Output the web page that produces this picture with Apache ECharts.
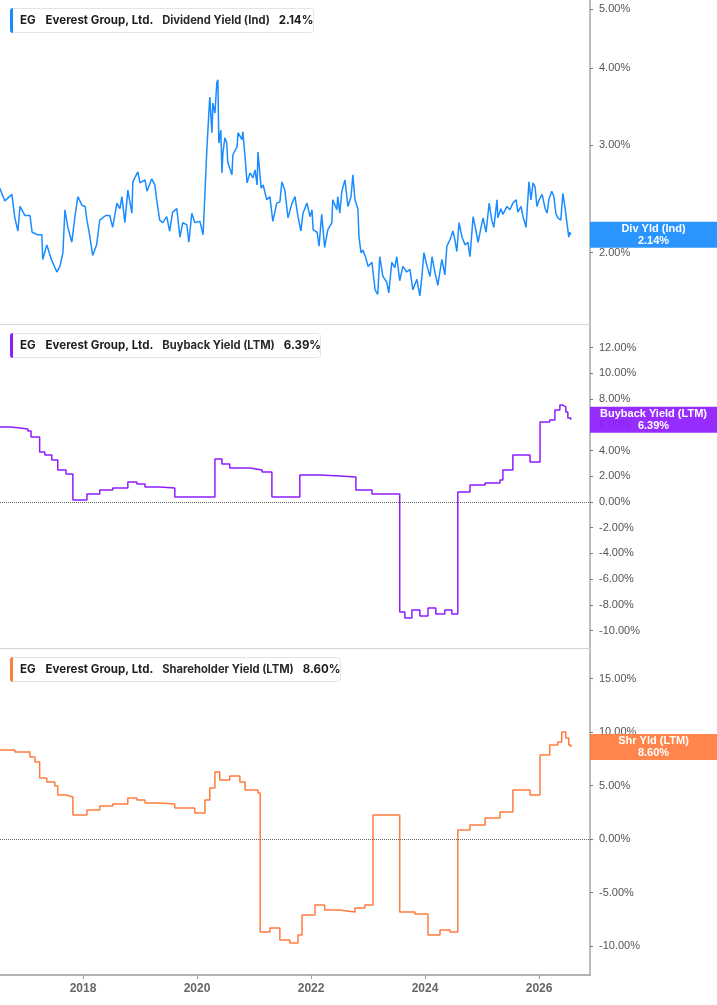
<!DOCTYPE html>
<html>
<head>
<meta charset="utf-8">
<script src="https://cdn.jsdelivr.net/npm/echarts@6/dist/echarts.min.js"></script>
<style>
html, body { margin: 0; padding: 0; background: #fff; }
#main { width: 717px; height: 1005px; }
</style>
</head>
<body>
<div id="main"></div>
<script>
// dividend yield (ind), %
const divDates = ['2016-07-16','2016-08-18','2016-10-02','2016-10-21','2016-11-10','2016-11-23','2016-12-25','2017-01-26','2017-02-09','2017-03-17','2017-04-12','2017-04-18','2017-05-14','2017-06-09','2017-07-17','2017-08-06','2017-08-25','2017-09-07','2017-09-26','2017-10-21','2017-11-10','2017-11-29','2017-12-25','2018-01-14','2018-01-26','2018-02-09','2018-03-04','2018-03-29','2018-04-18','2018-05-26','2018-06-21','2018-07-10','2018-08-06','2018-08-25','2018-09-07','2018-09-26','2018-10-15','2018-11-10','2018-11-16','2018-12-18','2019-01-01','2019-02-02','2019-02-15','2019-03-17','2019-04-06','2019-04-18','2019-05-07','2019-05-26','2019-06-21','2019-07-10','2019-07-29','2019-08-25','2019-09-14','2019-10-02','2019-10-28','2019-11-10','2019-11-29','2019-12-18','2020-01-20','2020-02-09','2020-02-21','2020-03-04','2020-03-17','2020-03-23','2020-04-06','2020-04-12','2020-04-25','2020-05-07','2020-05-14','2020-05-20','2020-06-02','2020-06-09','2020-06-15','2020-06-28','2020-07-10','2020-07-16','2020-08-12','2020-08-18','2020-09-14','2020-09-20','2020-10-15','2020-10-21','2020-11-04','2020-11-17','2020-12-06','2020-12-25','2021-01-07','2021-01-20','2021-01-26','2021-02-15','2021-02-28','2021-03-23','2021-04-12','2021-05-01','2021-05-26','2021-06-15','2021-06-28','2021-07-17','2021-08-06','2021-09-01','2021-09-20','2021-10-09','2021-10-28','2021-11-10','2021-12-06','2021-12-25','2022-01-07','2022-01-14','2022-02-09','2022-02-21','2022-03-10','2022-03-29','2022-04-18','2022-05-14','2022-05-20','2022-06-15','2022-06-21','2022-07-04','2022-07-17','2022-08-06','2022-08-25','2022-09-14','2022-09-26','2022-10-09','2022-10-28','2022-11-04','2022-11-17','2022-11-29','2022-12-18','2023-01-01','2023-01-26','2023-02-02','2023-02-15','2023-03-04','2023-03-17','2023-04-06','2023-05-01','2023-05-14','2023-06-02','2023-06-21','2023-07-04','2023-07-23','2023-08-12','2023-09-07','2023-09-26','2023-10-15','2023-11-10','2023-11-29','2023-12-12','2023-12-25','2024-01-14','2024-02-02','2024-02-15','2024-03-04','2024-03-23','2024-04-18','2024-05-07','2024-05-20','2024-06-09','2024-06-28','2024-07-10','2024-07-23','2024-08-06','2024-08-25','2024-09-14','2024-10-02','2024-10-15','2024-11-04','2024-11-23','2024-12-06','2024-12-25','2025-01-07','2025-01-26','2025-02-15','2025-03-04','2025-03-17','2025-04-06','2025-04-12','2025-05-01','2025-05-14','2025-06-09','2025-06-28','2025-07-17','2025-08-06','2025-08-18','2025-09-07','2025-09-20','2025-10-09','2025-10-15','2025-10-28','2025-11-10','2025-11-23','2025-12-06','2025-12-18','2026-01-01','2026-01-20','2026-02-09','2026-02-21','2026-03-04','2026-03-23','2026-04-06','2026-04-18','2026-05-01','2026-05-20','2026-06-02','2026-06-15','2026-06-28','2026-07-10','2026-07-16','2026-07-23'];
const divYield = [2.55,2.43,2.49,2.28,2.17,2.38,2.30,2.30,2.16,2.14,2.14,1.95,2.06,1.96,1.86,1.90,2.00,2.35,2.20,2.08,2.29,2.47,2.39,2.38,2.26,2.16,1.98,2.06,2.26,2.30,2.30,2.20,2.41,2.36,2.47,2.24,2.53,2.32,2.61,2.71,2.60,2.63,2.52,2.64,2.58,2.44,2.26,2.24,2.29,2.17,2.33,2.36,2.12,2.24,2.22,2.08,2.32,2.24,2.25,2.14,2.50,2.94,3.38,3.59,3.14,3.51,3.38,3.79,3.83,3.02,3.17,2.70,2.91,3.08,3.02,2.81,2.68,2.89,2.98,3.14,3.06,3.15,2.87,2.60,2.70,2.65,2.73,2.58,2.92,2.55,2.58,2.44,2.47,2.25,2.41,2.42,2.61,2.53,2.28,2.41,2.47,2.29,2.17,2.32,2.41,2.29,2.35,2.18,2.16,2.05,2.31,2.04,2.18,2.24,2.44,2.35,2.47,2.32,2.52,2.63,2.38,2.47,2.68,2.44,2.36,2.12,2.00,2.02,1.96,1.90,1.93,1.86,1.74,1.71,1.97,1.83,1.79,1.72,1.93,1.89,1.97,1.80,1.90,1.86,1.88,1.74,1.81,1.70,1.83,2.00,1.90,1.83,1.97,1.86,1.77,1.95,1.84,2.05,2.10,2.17,2.10,2.01,2.24,2.12,2.06,2.08,1.97,2.29,2.17,2.08,2.20,2.28,2.16,2.41,2.26,2.20,2.44,2.28,2.36,2.31,2.38,2.35,2.41,2.44,2.33,2.38,2.29,2.20,2.32,2.61,2.44,2.60,2.56,2.38,2.44,2.49,2.36,2.32,2.44,2.52,2.47,2.32,2.28,2.26,2.50,2.38,2.24,2.12,2.16,2.14];

// buyback yield (LTM), %, each value holds until the next date
const buyDates = ['2016-07-18','2016-09-19','2016-11-23','2017-01-13','2017-02-02','2017-03-29','2017-05-01','2017-06-15','2017-07-23','2017-09-14','2017-10-28','2018-01-26','2018-04-18','2018-07-10','2018-10-15','2018-12-12','2019-02-02','2019-05-07','2019-08-12','2020-04-25','2020-06-09','2020-07-29','2020-12-06','2021-02-21','2021-04-25','2021-10-21','2022-02-28','2022-07-04','2022-10-15','2023-01-26','2023-07-23','2023-08-25','2023-10-09','2023-11-29','2024-01-20','2024-03-10','2024-05-07','2024-06-21','2024-07-29','2024-10-15','2025-01-20','2025-04-25','2025-05-14','2025-07-17','2025-11-04','2026-01-07','2026-03-10','2026-04-12','2026-05-14','2026-06-02','2026-06-21','2026-07-04','2026-07-23'];
const buyYield = [5.83,5.75,5.68,5.52,5.05,3.89,3.65,3.27,2.49,2.18,0.16,0.62,0.93,1.09,1.56,1.40,1.17,1.09,0.39,3.34,2.95,2.64,2.49,2.33,0.39,2.10,2.02,1.94,0.93,0.62,-8.55,-9.02,-8.40,-8.86,-8.24,-8.71,-8.40,-8.71,0.78,1.32,1.48,1.71,2.49,3.65,3.11,6.22,6.38,7.15,7.54,7.39,7.00,6.53,6.39];

// shareholder yield (LTM), %
const shrDates = ['2016-07-18','2016-10-21','2017-01-26','2017-02-27','2017-03-29','2017-05-14','2017-07-04','2017-07-23','2017-09-14','2017-10-28','2018-01-26','2018-04-18','2018-07-10','2018-10-15','2018-12-12','2019-02-02','2019-05-07','2019-08-12','2019-12-18','2020-02-21','2020-03-23','2020-04-25','2020-05-26','2020-07-29','2020-10-02','2020-11-04','2021-01-26','2021-02-09','2021-04-12','2021-06-15','2021-08-18','2021-10-09','2021-11-04','2022-01-26','2022-03-29','2022-07-04','2022-10-09','2022-12-12','2023-02-02','2023-07-23','2023-10-28','2024-01-20','2024-04-06','2024-06-09','2024-07-29','2024-10-15','2025-01-20','2025-04-25','2025-07-17','2025-11-04','2026-01-07','2026-03-10','2026-05-01','2026-05-26','2026-06-21','2026-07-10','2026-07-23'];
const shrYield = [8.32,8.13,7.66,7.20,5.70,5.33,4.95,4.11,3.93,2.24,2.71,3.08,3.27,3.83,3.64,3.36,3.27,2.90,2.43,3.64,4.77,6.26,5.51,5.89,5.33,4.58,4.30,-8.69,-8.32,-9.44,-9.72,-8.97,-7.10,-6.17,-6.64,-6.82,-6.45,-6.17,2.24,-6.82,-7.01,-8.97,-8.50,-8.69,0.84,1.31,1.96,2.52,4.58,4.11,7.85,8.79,9.07,10.00,9.44,8.79,8.60];

// axis ticks
const divTicks = [2, 3, 4, 5];
const buyTicks = [-10, -8, -6, -4, -2, 0, 2, 4, 6, 8, 10, 12];
const shrTicks = [-10, -5, 0, 5, 10, 15];

const xMin = '2016-07-18';
const xMax = '2026-11-23';
const TWO_YEARS = 2 * 365.25 * 24 * 3600 * 1000;

const BLUE = '#1a8cff';
const PURPLE = '#8f1cff';
const ORANGE = '#ff7c3e';
const BLUE_BOX = 'rgba(26,140,255,0.93)';
const PURPLE_BOX = 'rgba(143,28,255,0.93)';
const ORANGE_BOX = 'rgba(255,124,62,0.93)';

const myChart = echarts.init(document.getElementById('main'));

function pairs (dates, vals) {
  return dates.map((d, i) => [d, vals[i]]);
}

function header (top, color, measure, value) {
  return {
    left: 10,
    top: top,
    padding: 0,
    backgroundColor: '#fff',
    borderColor: '#e4e4e4',
    borderWidth: 1,
    borderRadius: 3,
    text: '{bar|}{t|EG}{n|Everest Group, Ltd.}{m|' + measure + '}{v|' + value + '}',
    textStyle: {
      fontFamily: 'Inter',
      fontSize: 12,
      color: '#1c1c1c',
      rich: {
        bar: { width: 3, height: 25, backgroundColor: color, borderRadius: [3, 0, 0, 3] },
        t: { fontFamily: 'Inter', fontSize: 11.5, fontWeight: 'bold', color: '#1c1c1c', padding: [0, 10, 0, 7] },
        n: { fontFamily: 'Inter', fontSize: 11.5, fontWeight: 'bold', color: '#1c1c1c', padding: [0, 9, 0, 0] },
        m: { fontFamily: 'Inter', fontSize: 11.2, color: '#2a2a2a', padding: [0, 9, 0, 0] },
        v: { fontFamily: 'Inter', fontSize: 11.5, fontWeight: 'bold', color: '#1c1c1c', padding: [0, 7, 0, 0] }
      }
    }
  };
}

function xAxisFor (gridIndex, bottom) {
  return {
    type: 'time',
    gridIndex: gridIndex,
    min: xMin,
    max: xMax,
    minInterval: TWO_YEARS,
    maxInterval: TWO_YEARS,
    axisLine: { show: true, onZero: false, lineStyle: { color: bottom ? '#b3b3b3' : '#d4d4d4', width: bottom ? 2 : 1 } },
    axisTick: { show: bottom, length: 4, lineStyle: { color: '#999' } },
    axisLabel: {
      show: bottom,
      margin: 8,
      color: '#666',
      fontSize: 12,
      fontWeight: 'bold',
      fontFamily: 'Liberation Sans, Arial',
      showMinLabel: false,
      showMaxLabel: false,
      formatter: '{yyyy}'
    },
    splitLine: { show: false }
  };
}

function yAxisFor (gridIndex, type, min, max, ticks) {
  return {
    type: type,
    gridIndex: gridIndex,
    position: 'right',
    min: min,
    max: max,
    axisLine: { show: true, lineStyle: { color: '#bdbdbd', width: 2 } },
    axisTick: { show: true, length: 3, lineStyle: { color: '#777' }, customValues: ticks },
    axisLabel: {
      customValues: ticks,
      margin: 9,
      color: '#555',
      fontSize: 11,
      fontFamily: 'Liberation Sans, Arial',
      formatter: (v) => Number(v).toFixed(2) + '%'
    },
    splitLine: { show: false }
  };
}

function lastLabel (boxColor, name, value) {
  return {
    yAxis: value,
    lineStyle: { color: 'rgba(0,0,0,0)', width: 1 },
    label: {
      show: true,
      position: 'end',
      distance: 63.5,
      align: 'center',
      verticalAlign: 'middle',
      width: 127,
      padding: [1, 0],
      lineHeight: 12,
      backgroundColor: boxColor,
      color: '#fff',
      fontSize: 11,
      fontWeight: 'bold',
      fontFamily: 'Liberation Sans, Arial',
      formatter: name + '\n' + value.toFixed(2) + '%'
    }
  };
}

const zeroLine = {
  yAxis: 0,
  lineStyle: { type: 'dotted', color: '#666', width: 1 },
  label: { show: false }
};

function lineSeries (idx, dates, vals, color, boxColor, step, labelName, zero) {
  const marks = [];
  if (zero) marks.push(zeroLine);
  marks.push(lastLabel(boxColor, labelName, vals[vals.length - 1]));
  return {
    type: 'line',
    xAxisIndex: idx,
    yAxisIndex: idx,
    data: pairs(dates, vals),
    step: step,
    showSymbol: false,
    symbol: 'none',
    lineStyle: { color: color, width: 1.5 },
    itemStyle: { color: color },
    markLine: {
      silent: true,
      symbol: ['none', 'none'],
      animation: false,
      data: marks
    }
  };
}

const option = {
  animation: false,
  backgroundColor: '#fff',
  title: [
    header(8, BLUE, 'Dividend Yield (Ind)', '2.14%'),
    header(333, PURPLE, 'Buyback Yield (LTM)', '6.39%'),
    header(657, ORANGE, 'Shareholder Yield (LTM)', '8.60%')
  ],
  grid: [
    { left: 0, right: 127, top: 0, height: 324 },
    { left: 0, right: 127, top: 325, height: 323 },
    { left: 0, right: 127, top: 649, height: 326 }
  ],
  xAxis: [xAxisFor(0, false), xAxisFor(1, false), xAxisFor(2, true)],
  yAxis: [
    yAxisFor(0, 'log', 1.53, 5.17, divTicks),
    yAxisFor(1, 'value', -11.35, 13.76, buyTicks),
    yAxisFor(2, 'value', -12.71, 17.76, shrTicks)
  ],
  series: [
    lineSeries(0, divDates, divYield, BLUE, BLUE_BOX, false, 'Div Yld (Ind)', false),
    lineSeries(1, buyDates, buyYield, PURPLE, PURPLE_BOX, 'end', 'Buyback Yield (LTM)', true),
    lineSeries(2, shrDates, shrYield, ORANGE, ORANGE_BOX, 'end', 'Shr Yld (LTM)', true)
  ]
};

option && myChart.setOption(option);
</script>
</body>
</html>
